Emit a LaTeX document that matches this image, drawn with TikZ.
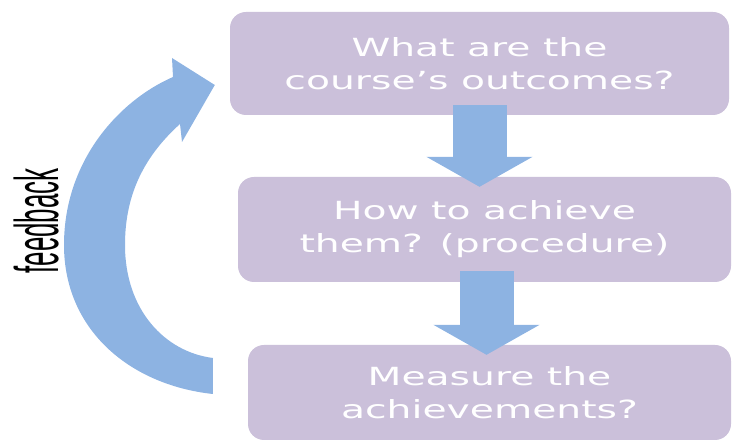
\documentclass[tikz,border=0pt]{standalone}
\usepackage{fontspec}
\usepackage{tikz}
\usetikzlibrary{arrows.meta}
\newfontfamily\boxfont[FakeStretch=1.57]{DejaVu Sans}
\newfontfamily\fbfont[FakeStretch=0.42]{Liberation Sans}
\definecolor{lavender}{RGB}{203,192,218}
\definecolor{arrowblue}{RGB}{141,179,226}
\tikzstyle{stepbox} = [rectangle, rounded corners=16pt, fill=lavender, text=white, align=center, inner sep=0pt, font=\boxfont\fontsize{25}{33}\selectfont]
\tikzstyle{outbox} = [stepbox, minimum width=499pt, minimum height=103pt]
\tikzstyle{procbox} = [stepbox, minimum width=493pt, minimum height=105pt]
\tikzstyle{measbox} = [stepbox, minimum width=483pt, minimum height=95pt]
\tikzstyle{blockarrow} = [line width=54pt, draw=arrowblue, -{Triangle[width=105pt,length=30pt]}]
\tikzstyle{fbtext} = [rotate=90, anchor=base, inner sep=0pt, font=\fbfont\fontsize{61.6}{62}\selectfont]

\begin{document}
\begin{tikzpicture}[x=1pt, y=-1pt, node distance=166pt]
\useasboundingbox (0,0) rectangle (732,443);
\node (outc) [outbox] at (479.5,63.5) {What are the\\course’s outcomes?};
\node (proc) [procbox, below of=outc, xshift=5pt] {How to achieve\\them? (procedure)};
\node (meas) [measbox, below of=proc, xshift=5pt, yshift=3pt] {Measure the\\achievements?};
%down arrows
\draw[blockarrow] ([yshift=10pt]outc.south) -- ([yshift=-10pt]outc.south |- proc.north);
\draw[blockarrow] ([xshift=2pt,yshift=11pt]proc.south) -- ([xshift=2pt,yshift=-10pt]proc.south |- meas.north);
%feedback loop
\coordinate (fbtail) at ([xshift=-35pt,yshift=-1.5pt]meas.west);
\coordinate (fbtip) at ([xshift=-15pt,yshift=-21.5pt]outc.west);
\fill[arrowblue] (fbtail) .. controls (130,385) and (64,330) .. (64,245)
  .. controls (64,160) and (120,100) .. (173,77)
  -- (172,58) -- (fbtip) -- (182,142) -- (180,124)
  .. controls (140,160) and (125,200) .. (125,245)
  .. controls (125,310) and (165,352) .. (213,358) -- cycle;
\node (fb) [fbtext] at (58,221) {feedback};
\end{tikzpicture}
\end{document}
